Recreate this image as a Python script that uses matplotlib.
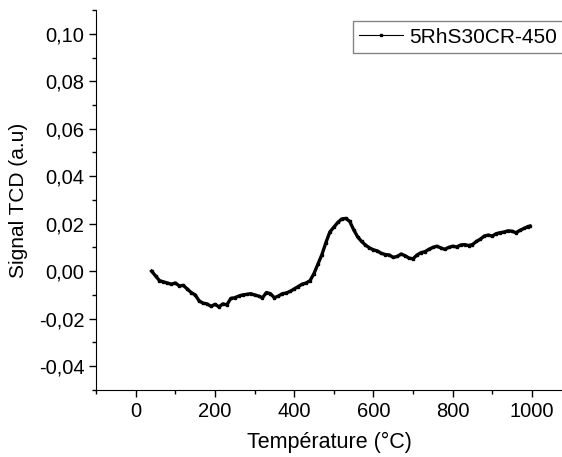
import matplotlib.pyplot as plt
from matplotlib.ticker import MultipleLocator, FuncFormatter

plt.rcParams['font.family'] = ['Liberation Sans', 'DejaVu Sans']

# temperature (°C) and TCD signal
temperature = [40, 50, 60, 70, 80, 90, 100, 110, 120, 130, 140, 150, 160, 170, 180,
               190, 200, 210, 220, 230, 240, 250, 260, 270, 280, 290, 300, 310, 320,
               330, 340, 350, 360, 370, 380, 390, 400, 410, 420, 430, 440, 450, 460,
               470, 480, 490, 500, 510, 520, 530, 540, 550, 560, 570, 580, 590, 600,
               610, 620, 630, 640, 650, 660, 670, 680, 690, 700, 710, 720, 730, 740,
               750, 760, 770, 780, 790, 800, 810, 820, 830, 840, 850, 860, 870, 880,
               890, 900, 910, 920, 930, 940, 950, 960, 970, 980, 990, 995]
signal = [0.0000, -0.0020, -0.0040, -0.0045, -0.0050, -0.0055, -0.0050, -0.0062,
          -0.0060, -0.0075, -0.0090, -0.0100, -0.0125, -0.0135, -0.0138, -0.0148,
          -0.0140, -0.0150, -0.0138, -0.0142, -0.0115, -0.0112, -0.0105, -0.0100,
          -0.0098, -0.0095, -0.0100, -0.0105, -0.0112, -0.0090, -0.0095, -0.0112,
          -0.0105, -0.0095, -0.0092, -0.0085, -0.0075, -0.0065, -0.0055, -0.0050,
          -0.0040, -0.0010, 0.0030, 0.0070, 0.0120, 0.0165, 0.0185, 0.0205, 0.0220,
          0.0222, 0.0210, 0.0175, 0.0145, 0.0125, 0.0110, 0.0098, 0.0090, 0.0085,
          0.0075, 0.0070, 0.0068, 0.0058, 0.0062, 0.0072, 0.0065, 0.0055, 0.0052,
          0.0068, 0.0078, 0.0082, 0.0092, 0.0100, 0.0105, 0.0098, 0.0092, 0.0100,
          0.0105, 0.0102, 0.0110, 0.0112, 0.0108, 0.0112, 0.0125, 0.0135, 0.0148,
          0.0152, 0.0148, 0.0158, 0.0162, 0.0165, 0.0170, 0.0168, 0.0162, 0.0172,
          0.0180, 0.0188, 0.0190]

fig = plt.figure(figsize=(5.62, 4.57), dpi=100)
ax = fig.add_axes([0.171, 0.147, 0.829, 0.831])

ax.plot(temperature, signal, color='black', lw=2.4, marker='s', ms=2,
        label='5RhS30CR-450')

ax.set_xlim(-100, 1076)
ax.set_ylim(-0.05, 0.11)
ax.xaxis.set_major_locator(MultipleLocator(200))
ax.xaxis.set_minor_locator(MultipleLocator(100))
ax.yaxis.set_major_locator(MultipleLocator(0.02))
ax.yaxis.set_minor_locator(MultipleLocator(0.01))
ax.yaxis.set_major_formatter(FuncFormatter(lambda v, p: f'{v:.2f}'.replace('.', ',')))

for s in ['top', 'right']:
    ax.spines[s].set_visible(False)
ax.tick_params(which='major', direction='out', length=5, width=1, labelsize=14.5)
ax.tick_params(which='minor', direction='out', length=3, width=1)

ax.set_xlabel('Température (°C)', fontsize=15.5, labelpad=8)
ax.set_ylabel('Signal TCD (a.u)', fontsize=15, labelpad=8)

leg = ax.legend(loc='upper right', fontsize=15, fancybox=False, edgecolor='#666666',
                handlelength=2.1, borderpad=0.3, borderaxespad=0, handletextpad=0.3,
                bbox_to_anchor=(1.003, 0.97))
leg.get_frame().set_linewidth(1)
leg.get_lines()[0].set_linewidth(0.8)

fig.savefig('out.png', dpi=100)
